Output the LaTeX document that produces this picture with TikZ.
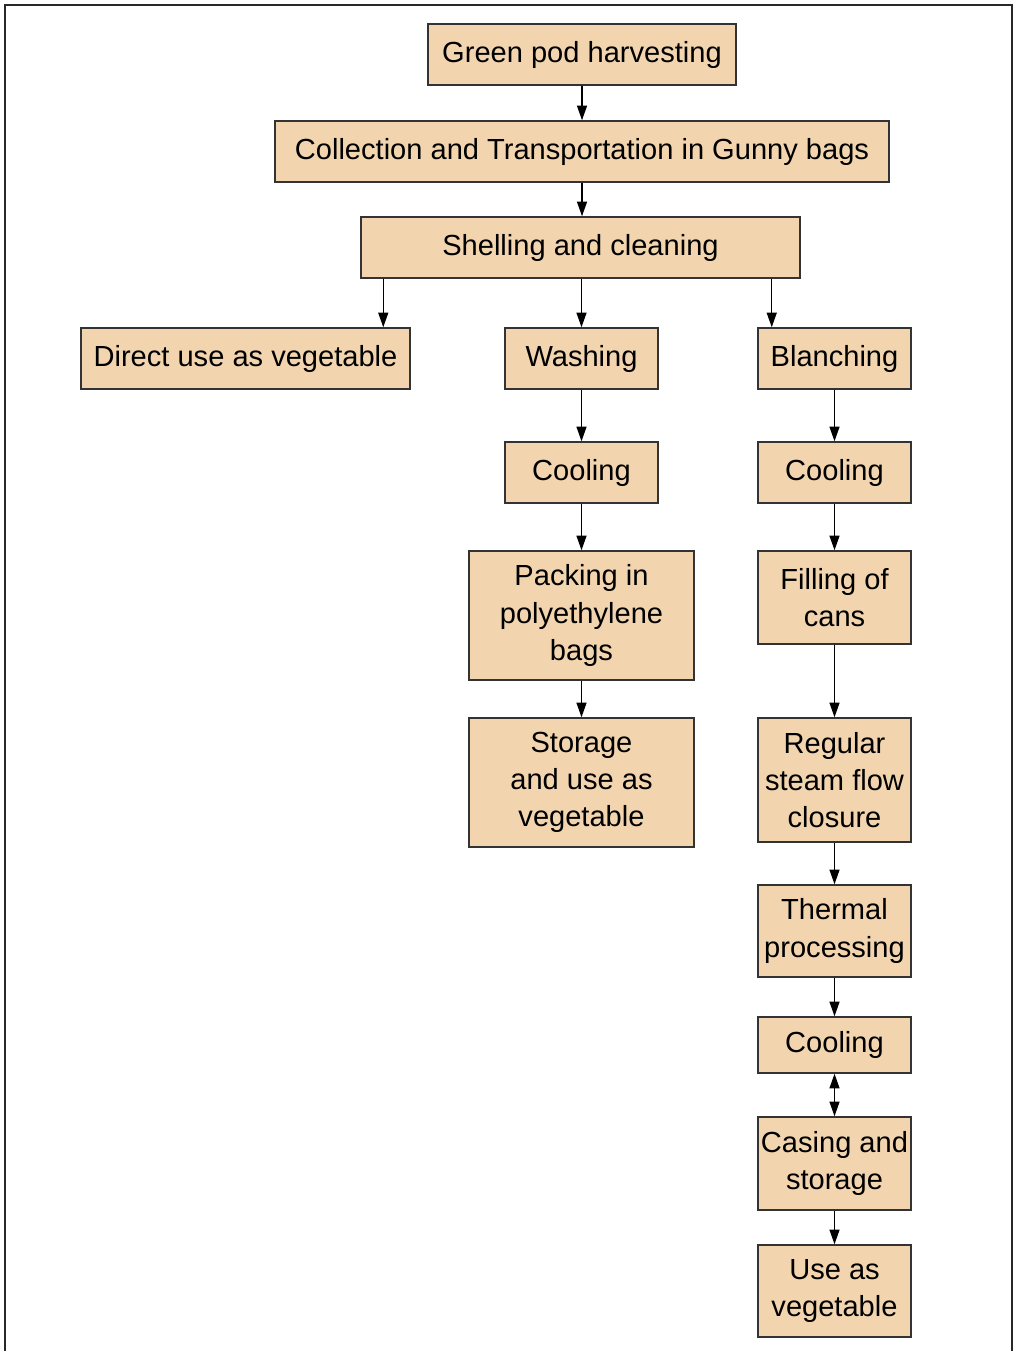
\documentclass[tikz,border=0pt]{standalone}
\usepackage{fontspec}
\setmainfont{Liberation Sans}
\usepackage{tikz}
\usetikzlibrary{arrows.meta}
\usetikzlibrary{shapes}

\definecolor{podfill}{RGB}{242,213,174}
\definecolor{podline}{RGB}{51,51,51}

\tikzset{
  stage/.style={draw=podline, line width=1.1pt, fill=podfill, rectangle, align=center,
    inner sep=0.75pt, font=\fontsize{21.8}{28}\selectfont},
  flow/.style={-{Triangle[length=11pt,width=7.5pt]}, line width=1pt},
  twoflow/.style={{Triangle[length=11pt,width=7.5pt]}-{Triangle[length=11pt,width=7.5pt]}, line width=1pt}
}

\begin{document}
\begin{tikzpicture}[x=0.75pt,y=0.75pt,yscale=-1,xscale=1]
\useasboundingbox (0,0) rectangle (1014,1351);

%Frame
\draw [color={rgb, 255:red, 40; green, 40; blue, 40 }, line width=1.5pt] (5,1351) -- (5,5) -- (1012,5) -- (1012,1351) ;

% Top chain
\node [stage, minimum width=231pt, minimum height=45.75pt] (harvest) at (582,54.5) {Green pod harvesting};
\node [stage, minimum width=460.5pt, minimum height=45.75pt] (collect) at (582,151.5) {Collection and Transportation in Gunny bags};
\node [stage, minimum width=329.25pt, minimum height=45.75pt] (shell) at (580.5,247.5) {Shelling and cleaning};

% Branch heads
\node [stage, minimum width=246.75pt, minimum height=45.75pt] (direct) at (245.5,358.5) {Direct use as vegetable};
\node [stage, minimum width=114.75pt, minimum height=45.75pt] (wash) at (581.5,358.5) {Washing};
\node [stage, minimum width=114.75pt, minimum height=45.75pt] (blanch) at (834.5,358.5) {Blanching};

% Middle branch
\node [stage, minimum width=114.75pt, minimum height=45.75pt] (coolA) at (581.5,472.5) {Cooling};
\node [stage, minimum width=168.75pt, minimum height=96.75pt] (pack) at (581.5,615.5) {Packing in\\polyethylene\\bags};
\node [stage, minimum width=168.75pt, minimum height=96.75pt] (store) at (581.5,782.5) {Storage\\and use as\\vegetable};

% Right branch
\node [stage, minimum width=114.75pt, minimum height=45.75pt] (coolB) at (834.5,472.5) {Cooling};
\node [stage, minimum width=114.75pt, minimum height=69.75pt] (fill) at (834.5,597.5) {Filling of\\cans};
\node [stage, minimum width=114.75pt, minimum height=93pt] (steam) at (834.5,780) {Regular\\steam flow\\closure};
\node [stage, minimum width=114.75pt, minimum height=69pt] (thermal) at (834.5,931) {Thermal\\processing};
\node [stage, minimum width=114.75pt, minimum height=42pt] (coolC) at (834.5,1045) {Cooling};
\node [stage, minimum width=114.75pt, minimum height=69.75pt] (casing) at (834.5,1163.5) {Casing and\\storage};
\node [stage, minimum width=114.75pt, minimum height=69pt] (useveg) at (834.5,1291) {Use as\\vegetable};

% Connectors
\draw [flow] (harvest.south) -- (harvest.south |- collect.north) ;
\draw [flow] (collect.south) -- (collect.south |- shell.north) ;
\draw [flow] ([xshift=17.25pt]shell.south west) -- ([xshift=17.25pt]shell.south west |- direct.north) ;
\draw [flow] (shell.south -| wash.north) -- (wash.north) ;
\draw [flow] ([xshift=-21.75pt]shell.south east) -- ([xshift=-21.75pt]shell.south east |- blanch.north) ;
\draw [flow] (wash) -- (coolA) ;
\draw [flow] (coolA) -- (pack) ;
\draw [flow] (pack) -- (store) ;
\draw [flow] (blanch) -- (coolB) ;
\draw [flow] (coolB) -- (fill) ;
\draw [flow] (fill) -- (steam) ;
\draw [flow] (steam) -- (thermal) ;
\draw [flow] (thermal) -- (coolC) ;
\draw [twoflow] (coolC) -- (casing) ;
\draw [flow] (casing) -- (useveg) ;

\end{tikzpicture}
\end{document}
